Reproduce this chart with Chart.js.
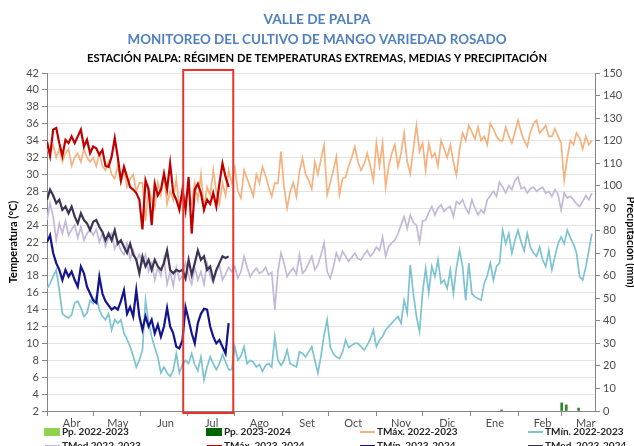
<!DOCTYPE html>
<html><head><meta charset="utf-8">
<script src="https://cdn.jsdelivr.net/npm/chart.js@4.4.0/dist/chart.umd.min.js"></script>
<style>html,body{margin:0;padding:0;background:#fff;overflow:hidden}#wrap{width:634px;height:446px;position:relative}</style>
</head><body><div id="wrap"><canvas id="c" width="634" height="446"></canvas></div>
<script>
// ---------- DATA ----------
const STEP = 2; // days between plotted readings (day 0 = 1 Apr)
const monthNames = ['Abr','May','Jun','Jul','Ago','Set','Oct','Nov','Dic','Ene','Feb','Mar'];
const monthStartDays = [0,30,61,91,122,153,183,214,244,275,306,334];
const lastDay = 356;
const highlightDays = [88.5, 121];
const titleLines = ['VALLE DE PALPA','MONITOREO DEL CULTIVO DE MANGO VARIEDAD ROSADO','ESTACIÓN PALPA: RÉGIMEN DE TEMPERATURAS EXTREMAS, MEDIAS Y PRECIPITACIÓN'];
const seriesNames = ['Pp. 2022-2023','Pp. 2023-2024','TMáx. 2022-2023','TMín. 2022-2023','TMed 2022-2023','TMáx. 2023-2024','TMín. 2023-2024','TMed. 2023-2024'];

const tmax2223 = [33,32.5,33.5,32,33,31.5,32.5,33,31,32,32.5,31.5,33,32,31.5,
32,31,32.5,31,30.5,31.5,30,29.5,31,29,30.5,28.5,29.5,30,28,29,
29,24.5,28.5,27,26,29,27.5,30,26.5,28,27,29.5,26,28,27,
28,26.5,29,27,30,26,28.5,27.5,30.5,28,26.5,29,27.5,30.5,
29,30.8,28,27.2,30.5,29.5,28.5,27.4,30,29,30.9,29.8,28.5,27.4,29,28.9,32.7,
28.5,26,28,29,27.4,30.3,31.9,30,29.3,28.3,31.5,30,31.8,33.5,27.6,
29,30.5,32.1,27.6,29.5,29.7,31,32,33.3,31.5,30.5,31.2,32.5,31,29.3,33.7,
31,33.7,28.5,31,32.5,33.5,30.9,32.5,34.9,31.5,30.1,33,35.8,32.7,33.7,
30.5,33.7,32,32.5,31,34,33,32,33.5,31.5,29.9,33,34.9,34,35.8,
35,34.2,35.6,34,34.5,33.5,36,35.4,34.5,34,34,35.6,34.5,33.7,35,
36.4,35,34,33.3,35,36,36.4,34.9,35.3,35.8,34.5,34.5,35.4,34.5,33.7,
29.3,32,34,33.5,34.9,34.3,33,34.5,33.5,34];

const tmed2223 = [24.6,26.6,25,22.2,24.2,23,24.5,22.8,23.5,24,22.5,23.8,22.2,23,23.5,
22.8,23.5,22,23,21.5,22.5,23,21.2,22,21,20.5,21.8,20,21,19.8,20.5,
19.5,20.5,18.5,19.5,17.5,19,18,20,17,18.5,16.8,19,17.5,18,19.5,
18,17,19,17.5,18.5,17,19.5,18,17.2,18.5,19.3,17.5,18.2,19,
18.5,19.1,17.7,18.5,20.3,19,17.9,18.5,18.9,18.3,18.5,19,18.1,18.4,14,18.5,20.7,
19.5,17.9,18.5,18.9,18.2,20.5,18.3,18.7,19.5,20.3,18.7,19.3,20.5,21.9,18.5,
17.7,19,20.7,19.8,20.9,20.3,19.7,20.2,20.7,20,19.9,20.5,21,20.3,20.7,21.4,
21,22.6,20.3,21.5,21.9,22.2,23,24,25,23.6,25.2,24.3,24,22,24.5,
24.6,25.5,26.2,25.2,26,26.4,25.6,26,26.2,25,26.8,26.5,27,26,25.4,
27,26,25.2,25.8,25.4,27,27.5,28,27.4,29.1,28.5,27.8,28.7,28.2,29.3,
29.7,28.3,28.5,27.8,28.3,28.5,28,28.3,28.5,27.8,28,27.4,28.2,27.6,25.8,
27.8,27.2,27.4,27,26.5,26.2,26.8,27.5,27,27.8];

const tmin2223 = [16.5,17.1,17.9,18.7,16.3,13.5,13.2,13,13.4,14.8,15,14.2,13.2,13.6,15.1,
14.7,15.5,14,13.2,12.8,13.5,11.6,12.8,12.4,12.8,11.2,10.5,9.6,8.5,7.2,8,
9.2,15.1,12.5,10.8,9.5,8.4,6.5,7.2,6.5,6.1,6.8,8.8,6.5,7.5,8,
7.6,8.8,7.5,6.8,8.4,5.7,7.2,8.4,7.6,6.9,7.6,8.7,7.8,6.9,
6.9,9.6,8,8.5,9.6,7.6,8,7.8,7.2,7.5,6.7,7.4,7.6,7.2,10.8,8,7.4,
8,9.2,7.6,7.4,7.2,9,8.8,8.4,9,9.6,8,6.5,8.5,11,12.8,
9.6,8.8,8.4,8.2,9,10.4,9.5,9.8,10,10,9.6,9.2,9.8,10.5,11.6,9.6,
10.4,10.8,11.6,12,12.4,12.8,13.2,12.4,15.1,13.6,19.3,15.9,13.2,11.4,16,
18.9,16,19.1,17.9,19.9,17.1,17.5,16.5,18.7,15.9,19,21,19.1,15.1,19.5,
15.9,15.5,15.3,15.1,17.1,18,19.5,17.5,19.1,19.5,23.4,21.8,23,20.7,22.2,
23.4,22,21,23,21.4,20.7,20.3,21.4,19.9,19.1,21,18.7,20.3,21.8,22.6,
21.8,23.4,22.5,21.8,20.7,17.9,17.5,19,21,23];

const tmax2324 = [33.9,32.2,35.3,35.5,33.7,32.2,34.1,33.7,34.5,33.7,34.5,35.3,33.3,34.1,32.5,
33.3,33.1,32.3,32.9,31,30.9,32.1,34.3,32,29.3,30.9,29.7,28.5,28.2,27.8,27,
23.5,29.3,28.2,24,28.9,27.5,28.2,30.1,28.2,31.3,27.8,27,25.8,28.2,25.8,
29.7,23,28.2,28.9,27.8,25.8,27,26.5,27.8,26.2,28.9,31.3,29.7,28.5];

const tmed2324 = [27,28.2,27.5,26.6,27,25.8,26.2,25.4,26.2,25,24.2,25.4,24.6,24.2,23.4,
24.4,24.6,23.8,23.2,22.2,23,22.2,23.4,21.8,22.2,21.4,20.7,21.8,20.5,19.9,
18.3,20.3,19.1,19.9,18.7,19.9,19.1,18.7,19.5,21,18.7,18.3,18.7,18.5,18.7,
17.7,19.9,18.1,19.5,21,19.9,20.3,18.7,19.1,17.5,18.7,19.5,20.3,20.1,20.3];

const tmin2324 = [22,22.8,20.7,19.5,18.7,17.5,18.7,17.9,18.5,17.5,16.7,19.1,18.3,16.7,15.9,
15.1,14.8,17.9,15.9,15,14.5,14,14.3,14,15,16.3,13.5,14.3,13.2,16.3,
13.2,11.6,13.2,12,12.8,11.2,12.2,10.8,12,14.2,12,11.2,9.6,9.4,10.4,
14.3,12.8,11.2,10,12.4,13.5,14.1,14,12,10.8,10,10.4,9.6,8.8,12.4];

const ppDays = [296,335,338,346];
const pp2223 = [0.5,3.6,2.7,1.3];
const pp2324 = [];

// ---------- HELPERS ----------
const toXY = arr => arr.map((v,i)=>({x:i*STEP, y:v}));
const FONT = 'Lato, "Liberation Sans", Arial, sans-serif';

const titlePlugin = {
  id:'titles',
  afterDraw(chart){
    const ctx = chart.ctx;
    const specs = [
      {t:titleLines[0], y:19, w:107, f:'bold 14px '+FONT, c:'#4f7fbf'},
      {t:titleLines[1], y:39, w:379, f:'bold 14px '+FONT, c:'#4f7fbf'},
      {t:titleLines[2], y:58, w:460, f:'bold 12px '+FONT, c:'#000000'}
    ];
    specs.forEach(s=>{
      ctx.save(); ctx.font = s.f;
      const m = ctx.measureText(s.t).width;
      ctx.translate(317, s.y); ctx.scale(s.w/m, 1);
      ctx.fillStyle = s.c; ctx.textAlign='center'; ctx.textBaseline='middle';
      ctx.fillText(s.t, 0, 0); ctx.restore();
    });
  }
};

const boxPlugin = {
  id:'hbox',
  afterDatasetsDraw(chart){
    const {ctx, chartArea, scales} = chart;
    const x0 = scales.x.getPixelForValue(highlightDays[0]);
    const x1 = scales.x.getPixelForValue(highlightDays[1]);
    ctx.save(); ctx.strokeStyle='#e8332d'; ctx.lineWidth=2;
    ctx.strokeRect(x0, chartArea.top-3, x1-x0, chartArea.bottom-chartArea.top+5);
    ctx.restore();
  }
};

const legendPlugin = {
  id:'legendGrid',
  afterDraw(chart){
    const ctx = chart.ctx;
    const textX = [62, 224, 377, 545];
    const rowY = [432, 446];
    const ds = chart.data.datasets;
    ctx.save();
    ctx.font = 'bold 10px '+FONT; ctx.textBaseline='middle'; ctx.textAlign='left';
    ds.forEach((d, k)=>{
      const col = k % 4, row = Math.floor(k/4);
      const tx = textX[col], ty = rowY[row];
      if (d.type === 'bar') {
        ctx.fillStyle = d.legendColor || d.backgroundColor;
        ctx.fillRect(tx-18, ty-4, 16, 8);
      } else {
        ctx.strokeStyle = d.borderColor; ctx.lineWidth = 2;
        ctx.beginPath(); ctx.moveTo(tx-17, ty); ctx.lineTo(tx-2, ty); ctx.stroke();
      }
      ctx.fillStyle = '#262626';
      ctx.fillText(d.label, tx, ty);
    });
    ctx.restore();
  }
};

const lineDS = (label, arr, color, width, order) => ({
  type:'line', label, data: toXY(arr), yAxisID:'y', borderColor: color, backgroundColor: color,
  borderWidth: width, pointRadius:0, tension:0, order, fill:false
});

const datasets = [
  {type:'bar', label: seriesNames[0], data: ppDays.map((d,i)=>({x:d, y:pp2223[i]})), yAxisID:'y1',
   backgroundColor:'#2e8b2e', legendColor:'#92d050', barThickness:2, order:5},
  {type:'bar', label: seriesNames[1], data: pp2324.map((v,i)=>({x:ppDays[i], y:v})), yAxisID:'y1',
   backgroundColor:'#006400', barThickness:2, order:5},
  lineDS(seriesNames[2], tmax2223, '#f6b27e', 1.7, 3),
  lineDS(seriesNames[3], tmin2223, '#7cc3d2', 1.7, 3),
  lineDS(seriesNames[4], tmed2223, '#c4b8da', 1.7, 3),
  lineDS(seriesNames[5], tmax2324, '#c00000', 2.2, 1),
  lineDS(seriesNames[6], tmin2324, '#13138f', 2.2, 1),
  lineDS(seriesNames[7], tmed2324, '#3d3252', 2.2, 1)
];

new Chart(document.getElementById('c'), {
  data: { datasets },
  options: {
    responsive:false, animation:false, devicePixelRatio:1,
    layout:{ padding:{ top:73, bottom:15, left:0, right:0 } },
    plugins:{ legend:{display:false}, title:{display:false}, tooltip:{enabled:false} },
    scales:{
      x:{
        type:'linear', min:0, max:lastDay, offset:false,
        afterBuildTicks: s => {
          const t = [];
          monthStartDays.forEach((d,i)=>{ t.push({value:d}); t.push({value:d+16, mname:monthNames[i]}); });
          s.ticks = t.filter(k=>k.value<=lastDay);
        },
        ticks:{ autoSkip:false, maxRotation:0, minRotation:0, padding:1, color:'#4d4d4d',
          font:{family:FONT, size:11},
          callback: (v,i,ticks) => ticks[i].mname || '' },
        grid:{ offset:false, drawOnChartArea:false, drawTicks:true, tickLength:5,
          color: c => (c.tick && c.tick.mname) ? 'rgba(0,0,0,0)' : '#868686' },
        border:{ display:true, color:'#868686' },
        afterFit: s => { s.height = 20; }
      },
      y:{
        position:'left', min:2, max:42,
        ticks:{ stepSize:2, color:'#4d4d4d', font:{family:FONT, size:11}, padding:3 },
        grid:{ color:'#e3e3e3', tickColor:'#868686', tickLength:5 },
        border:{ display:true, color:'#868686' },
        title:{ display:true, text:'Temperatura (°C)', color:'#000', font:{family:FONT, size:11, weight:'bold'}, padding:{top:7,bottom:0} },
        afterFit: s => { s.width = 47; }
      },
      y1:{
        position:'right', min:0, max:150,
        ticks:{ stepSize:10, color:'#4d4d4d', font:{family:FONT, size:11}, padding:3 },
        grid:{ drawOnChartArea:false, tickColor:'#868686', tickLength:5 },
        border:{ display:true, color:'#868686' },
        title:{ display:true, text:'Precipitación (mm)', color:'#000', font:{family:FONT, size:11, weight:'bold'}, padding:{top:-3,bottom:0} },
        afterFit: s => { s.width = 39; }
      }
    }
  },
  plugins:[titlePlugin, boxPlugin, legendPlugin]
});
</script></body></html>
